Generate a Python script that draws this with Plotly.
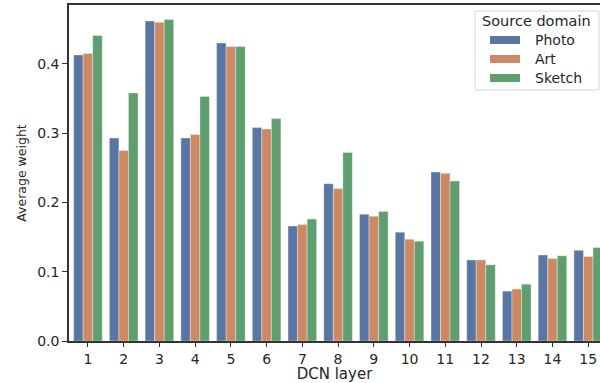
import plotly.graph_objects as go

layers = [str(i) for i in range(1, 16)]
photo = [0.413, 0.293, 0.462, 0.293, 0.430, 0.308, 0.166, 0.227, 0.183, 0.157, 0.244, 0.117, 0.072, 0.124, 0.131]
art = [0.415, 0.275, 0.460, 0.298, 0.425, 0.306, 0.168, 0.220, 0.180, 0.147, 0.242, 0.117, 0.075, 0.119, 0.122]
sketch = [0.441, 0.358, 0.464, 0.353, 0.425, 0.321, 0.176, 0.272, 0.187, 0.144, 0.231, 0.110, 0.082, 0.123, 0.135]
series_names = ["Photo", "Art", "Sketch"]
colors = ["#5975a4", "#cc8963", "#5f9e6e"]
y_ticks = [0.0, 0.1, 0.2, 0.3, 0.4]
legend_title = "Source domain"

W, H = 600, 383
ML, MR, MT, MB = 69, 0, 5, 42
PW, PH = W - ML - MR, H - MT - MB


def px(x):
    return (x - ML) / PW


def py(y):
    return (H - MB - y) / PH


fig = go.Figure()
for name, vals, col in zip(series_names, [photo, art, sketch], colors):
    fig.add_trace(go.Bar(
        x=layers, y=vals, name=name,
        marker=dict(color=col, line=dict(color="rgba(255,255,255,0.6)", width=0.6)),
        showlegend=False,
    ))

font_family = "DejaVu Sans"
shapes = []
annotations = []
# legend box
shapes.append(dict(type="rect", xref="paper", yref="paper",
                   x0=px(475), x1=px(599), y0=py(90), y1=py(11),
                   line=dict(color="#d6d6d6", width=1), fillcolor="rgba(255,255,255,0.85)",
                   layer="above"))
annotations.append(dict(xref="paper", yref="paper", x=px(480), y=py(21),
                        text=legend_title, showarrow=False, xanchor="left", yanchor="middle",
                        font=dict(size=14.5, family=font_family, color="#262626")))
for i, (name, col) in enumerate(zip(series_names, colors)):
    cy = 40 + i * 19
    shapes.append(dict(type="rect", xref="paper", yref="paper",
                       x0=px(490), x1=px(520), y0=py(cy + 4), y1=py(cy - 4),
                       line=dict(width=0), fillcolor=col, layer="above"))
    annotations.append(dict(xref="paper", yref="paper", x=px(533), y=py(cy),
                            text=name, showarrow=False, xanchor="left", yanchor="middle",
                            font=dict(size=14, family=font_family, color="#262626")))

fig.update_layout(
    width=W, height=H,
    margin=dict(l=ML, r=MR, t=MT, b=MB),
    paper_bgcolor="white", plot_bgcolor="white",
    barmode="group", bargap=0.2, bargroupgap=0,
    font=dict(family=font_family, color="#262626", size=14),
    showlegend=False,
    shapes=shapes,
    annotations=annotations,
    xaxis=dict(
        type="category", range=[-0.53, 14.33],
        showline=True, linecolor="#333333", linewidth=1.5, mirror=True,
        ticks="outside", ticklen=4, tickcolor="#333333",
        showgrid=False, zeroline=False,
        tickfont=dict(size=14),
        title=dict(text="DCN layer", font=dict(size=15), standoff=2),
    ),
    yaxis=dict(
        range=[0, 0.485],
        tickvals=y_ticks, ticktext=[f"{v:.1f}" for v in y_ticks],
        showline=True, linecolor="#333333", linewidth=1.5, mirror=False,
        ticks="outside", ticklen=5, tickcolor="#333333",
        showgrid=False, zeroline=False,
        tickfont=dict(size=14),
        title=dict(text="Average weight", font=dict(size=12.5), standoff=8),
    ),
)

fig.write_html("out.html", config={"displayModeBar": False},
               post_script="document.body.style.margin='0';document.body.style.overflow='hidden';")
